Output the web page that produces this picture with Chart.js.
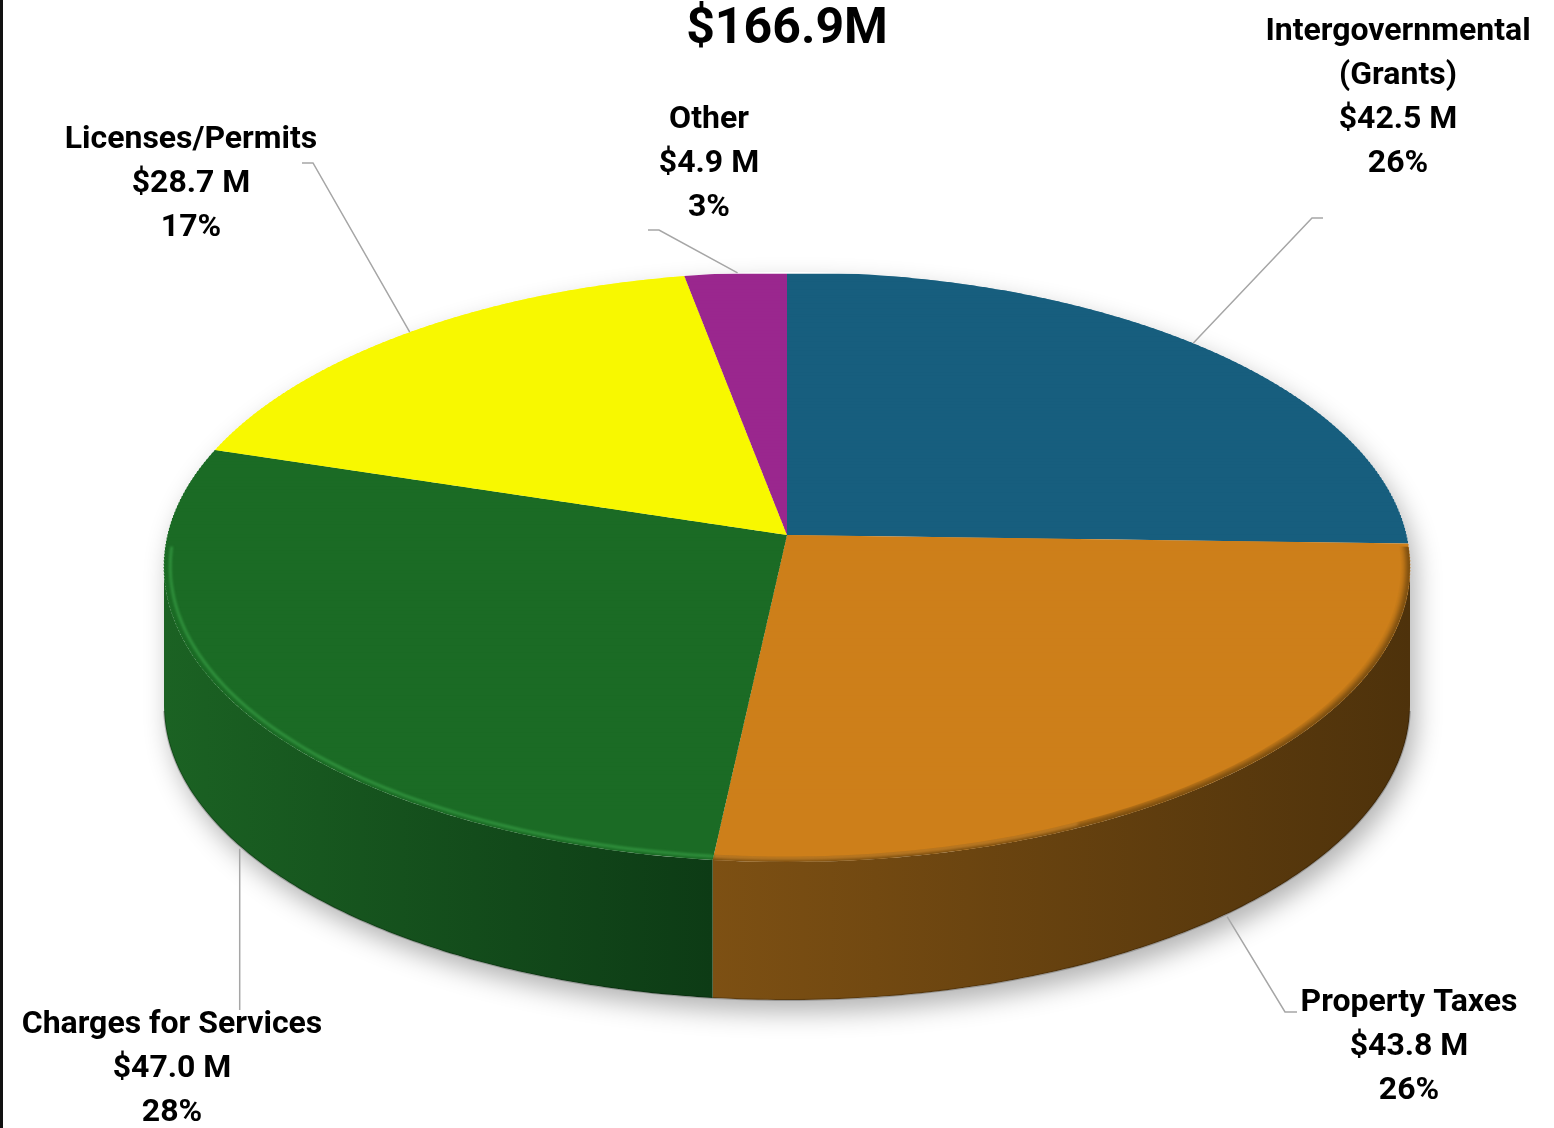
<!DOCTYPE html>
<html>
<head>
<meta charset="utf-8">
<title>Revenue by Source</title>
<script src="https://cdn.jsdelivr.net/npm/chart.js@4.4.1/dist/chart.umd.min.js"></script>
<style>
  html, body { margin: 0; padding: 0; background: #ffffff; }
  #wrap { position: relative; width: 1554px; height: 1128px; overflow: hidden; }
  #edge { position: absolute; left: 0; top: 0; width: 3px; height: 1128px; background: #111111; }
</style>
</head>
<body>
<div id="wrap">
  <canvas id="chart" width="1554" height="1128"></canvas>
  <div id="edge"></div>
</div>
<script>
// Revenue sources, clockwise from 12 o'clock
const categories = ['Intergovernmental (Grants)', 'Property Taxes', 'Charges for Services', 'Licenses/Permits', 'Other'];
const nameLines = [['Intergovernmental', '(Grants)'], ['Property Taxes'], ['Charges for Services'], ['Licenses/Permits'], ['Other']];
const revenueMillions = [42.5, 43.8, 47.0, 28.7, 4.9];
const percentLabels = ['26%', '26%', '28%', '17%', '3%'];
const totalLabel = '$166.9M';

// Slice styling
const topColors  = ['#175E7E', '#CD7F1A', '#1B6B25', '#F8F800', '#9A278E'];
const wallColors = [['#10435a', '#0c3346'], ['#7d5013', '#4e320b'], ['#1b6223', '#0d3b15'], ['#b5b500', '#8a8a00'], ['#6e1c66', '#551550']];
const rimColors  = ['#2a7aa0', '#de9636', '#33953f', '#ffff66', '#b54aa9'];
const rimSoft    = [false, true, false, false, false];

// Tilted disc seen in perspective: hub point, far edge, near edge, half width, wall height
const view = { hubX: 787, hubY: 535, farY: 272, nearY: 862, halfWidth: 623, depth: 138 };

// Callout placement: f = position along the slice's rim, drop = share of the wall height,
// path = leader line bends, x/y = text centre and first baseline
const callouts = [
  { f: 0.49,  drop: 0,    path: [[1312, 218], [1323, 218]], x: 1398, y: 40 },
  { f: 0.504, drop: 1.02, path: [[1285, 1012], [1297, 1012]], x: 1409, y: 1011 },
  { f: 0.493, drop: 1.02, path: [[null, 1010]], x: 172, y: 1033 },
  { f: 0.505, drop: 0,    path: [[313, 163], [302, 163]], x: 191, y: 148 },
  { f: 0.52,  drop: 0,    path: [[659, 230], [648, 230]], x: 709, y: 128 }
];

const FONT = 'Roboto, "Liberation Sans", Arial, sans-serif';
const LINE_GAP = 44;

// projective map of the unit disc (u right, v toward the viewer) onto the page
const P = (() => {
  const back = view.hubY - view.farY, front = view.nearY - view.hubY;
  const k = (back - front) / (back + front);
  const b = back * (1 - k);
  const sx = -k; // latitude of the widest silhouette point
  const a = view.halfWidth / (Math.sqrt(1 - sx * sx) / (1 + k * sx));
  return { k, a, b, sideAngle: Math.asin(Math.max(-1, Math.min(1, -k))) };
})();

function project(u, v) {
  const w = 1 + P.k * v;
  return [view.hubX + P.a * u / w, view.hubY + P.b * v / w];
}
function rim(t, scale = 1) { return project(scale * Math.cos(t), scale * Math.sin(t)); }

function arcList(chart) {
  return chart.getDatasetMeta(0).data;
}
function props(el) {
  return el.getProps(['x', 'y', 'startAngle', 'endAngle', 'outerRadius'], true);
}

function tracePath(ctx, pts) {
  ctx.beginPath();
  pts.forEach(([x, y], i) => (i ? ctx.lineTo(x, y) : ctx.moveTo(x, y)));
  ctx.closePath();
}
function strokeLine(ctx, pts) {
  ctx.beginPath();
  pts.forEach(([x, y], i) => (i ? ctx.lineTo(x, y) : ctx.moveTo(x, y)));
  ctx.stroke();
}

function sampled(a, b, n, fn) {
  const out = [];
  for (let s = 0; s <= n; s++) out.push(fn(a + (b - a) * s / n));
  return out;
}

const tiltedPie = {
  id: 'tiltedPie',
  beforeDatasetsDraw(chart) {
    const ctx = chart.ctx;
    const els = arcList(chart);
    const arcs = els.map(props);
    const d = view.depth;
    const s0 = P.sideAngle, s1 = Math.PI - P.sideAngle;

    // soft ground shadow under the whole disc
    const outline = sampled(s1, 2 * Math.PI + s0, 240, t => rim(t))
      .concat(sampled(s0, s1, 180, t => { const p = rim(t); return [p[0], p[1] + d]; }));
    ctx.save();
    tracePath(ctx, outline);
    ctx.shadowColor = 'rgba(0,0,0,0.30)';
    ctx.shadowBlur = 26;
    ctx.shadowOffsetX = 6;
    ctx.shadowOffsetY = 12;
    ctx.fillStyle = '#ffffff';
    ctx.fill();
    ctx.restore();

    // front walls, one per visible slice
    arcs.forEach((arc, i) => {
      const a = Math.max(arc.startAngle, s0);
      const b = Math.min(arc.endAngle, s1);
      if (b <= a) return;
      const topEdge = sampled(a, b, 120, t => rim(t));
      const baseEdge = sampled(b, a, 120, t => { const p = rim(t); return [p[0], p[1] + d]; });
      const xs = topEdge.map(p => p[0]);
      const x0 = Math.min(...xs), x1 = Math.max(...xs);
      const grad = ctx.createLinearGradient(x0, 0, x1 + 0.01, 0);
      grad.addColorStop(0, wallColors[i][0]);
      grad.addColorStop(1, wallColors[i][1]);
      ctx.save();
      tracePath(ctx, topEdge.concat(baseEdge));
      ctx.fillStyle = grad;
      ctx.fill();
      ctx.restore();
    });

    // thin dark seam along the base of the walls
    ctx.save();
    ctx.strokeStyle = 'rgba(0,0,0,0.22)';
    ctx.lineWidth = 2;
    strokeLine(ctx, sampled(s0 + 0.02, s1 - 0.02, 180, t => { const p = rim(t); return [p[0], p[1] + d]; }));
    ctx.restore();

    // top face: the library's arc elements, drawn in thin bands so the round pie
    // follows the perspective of the tilted disc
    const p0 = arcs[0];
    const R = p0.outerRadius, px = p0.x, py = p0.y;
    const base = ctx.getTransform();
    const N = 180;
    for (let j = 0; j < N; j++) {
      const v0 = -1 + 2 * j / N, v1 = -1 + 2 * (j + 1) / N, vm = (v0 + v1) / 2;
      const w = 1 + P.k * vm;
      const sx = P.a / w;
      const ym = view.hubY + P.b * vm / w;
      const dy = P.b / (w * w);
      const pad = 0.8 * R / dy;
      ctx.save();
      ctx.setTransform(base);
      ctx.transform(sx / R, 0, 0, dy / R, view.hubX - sx * px / R, ym - dy * (py / R + vm));
      ctx.beginPath();
      ctx.rect(px - R - 10, py + R * v0 - (j ? pad : 10), 2 * R + 20, R * (v1 - v0) + pad + (j === N - 1 ? 10 : pad));
      ctx.clip();
      els.forEach(el => el.draw(ctx, chart.chartArea));
      ctx.restore();
    }

    // rim of the top face: a bevel highlight, or a soft fall-off into the wall
    arcs.forEach((arc, i) => {
      const a = Math.max(arc.startAngle, 0.04);
      const b = Math.min(arc.endAngle, Math.PI - 0.04);
      if (b <= a) return;
      ctx.save();
      if (rimSoft[i]) {
        // darker, blurred lip on the outer part of the rim
        ctx.beginPath();
        const outer = sampled(a, b, 120, t => rim(t));
        const inner = sampled(b, a, 120, t => rim(t, 0.985));
        tracePath(ctx, outer.concat(inner));
        ctx.clip();
        ctx.filter = 'blur(3px)';
        ctx.strokeStyle = wallColors[i][1];
        ctx.globalAlpha = 0.85;
        ctx.lineWidth = 7;
        strokeLine(ctx, sampled(a - 0.05, b + 0.05, 120, t => rim(t)));
        // faint light band near the hub side of the rim
        ctx.filter = 'blur(1.5px)';
        ctx.globalAlpha = 0.55;
        ctx.strokeStyle = rimColors[i];
        ctx.lineWidth = 3;
        strokeLine(ctx, sampled(b - 0.55, b, 60, t => rim(t, 0.99)));
      } else {
        ctx.strokeStyle = rimColors[i];
        ctx.globalAlpha = 0.85;
        ctx.lineWidth = 3;
        ctx.filter = 'blur(1px)';
        strokeLine(ctx, sampled(a, b, 120, t => rim(t, 0.99)));
      }
      ctx.restore();
    });

    return false;
  },
  afterDraw(chart) {
    const ctx = chart.ctx;
    const arcs = arcList(chart).map(props);
    const d = view.depth;

    // total
    ctx.save();
    ctx.fillStyle = '#000000';
    ctx.textAlign = 'center';
    ctx.textBaseline = 'alphabetic';
    ctx.font = 'bold 50px ' + FONT;
    ctx.fillText(totalLabel, 787, 43);
    ctx.restore();

    // callouts with leader lines
    arcs.forEach((arc, i) => {
      const c = callouts[i];
      const t = arc.startAngle + c.f * (arc.endAngle - arc.startAngle);
      const r = rim(t);
      const ax = r[0], ay = r[1] + c.drop * d;

      ctx.save();
      ctx.strokeStyle = '#A6A6A6';
      ctx.lineWidth = 1.5;
      ctx.beginPath();
      ctx.moveTo(ax, ay);
      c.path.forEach(([qx, qy]) => ctx.lineTo(qx === null ? ax : qx, qy));
      ctx.stroke();
      ctx.restore();

      const lines = nameLines[i].concat(['$' + revenueMillions[i].toFixed(1) + ' M', percentLabels[i]]);
      ctx.save();
      ctx.fillStyle = '#000000';
      ctx.textAlign = 'center';
      ctx.textBaseline = 'alphabetic';
      ctx.font = 'bold 32px ' + FONT;
      lines.forEach((ln, k) => ctx.fillText(ln, c.x, c.y + k * LINE_GAP));
      ctx.restore();
    });
  }
};

new Chart(document.getElementById('chart'), {
  type: 'pie',
  data: {
    labels: categories,
    datasets: [{
      data: revenueMillions,
      backgroundColor: topColors,
      borderWidth: 0,
      hoverOffset: 0,
      clip: false
    }]
  },
  options: {
    responsive: false,
    animation: false,
    events: [],
    layout: { padding: 0 },
    plugins: {
      legend: { display: false },
      tooltip: { enabled: false },
      title: { display: false }
    }
  },
  plugins: [tiltedPie]
});
</script>
</body>
</html>
